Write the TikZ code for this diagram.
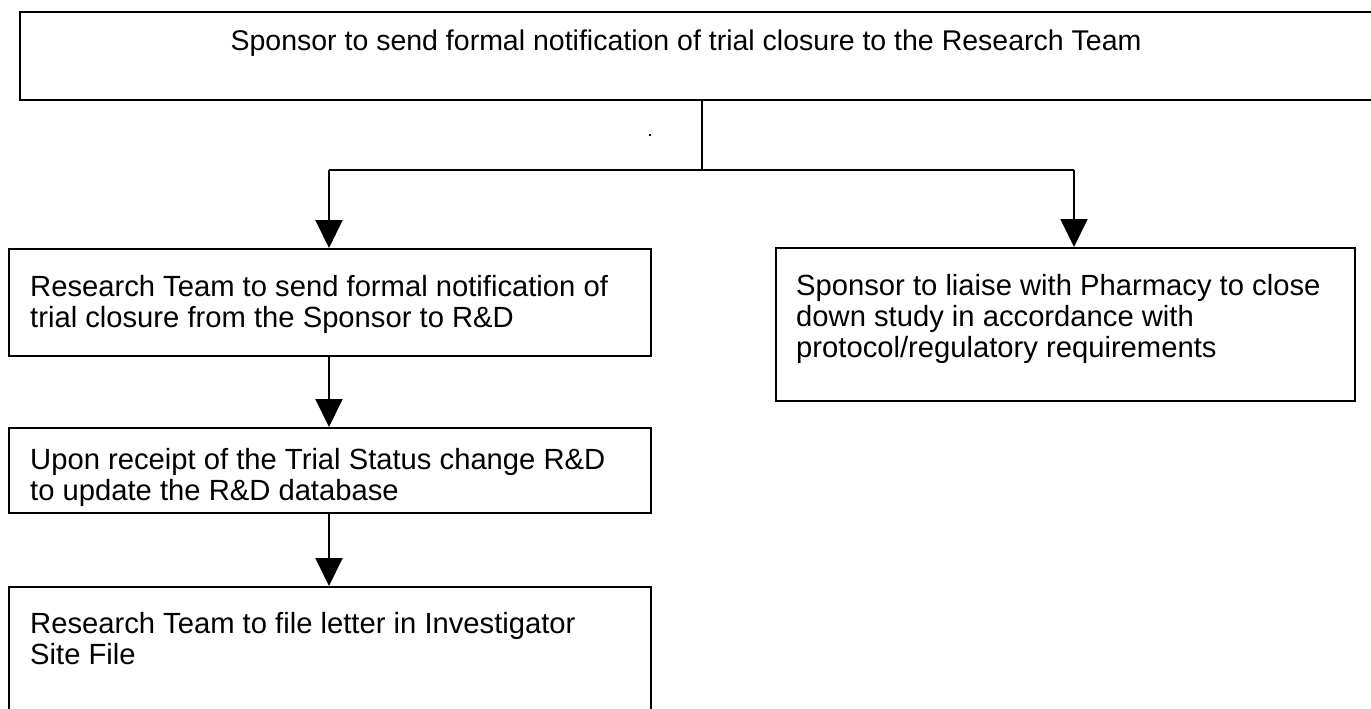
\documentclass[tikz,border=0pt]{standalone}
\usepackage{fontspec}
\setmainfont{Liberation Sans}
\usetikzlibrary{arrows.meta}
\begin{document}
\begin{tikzpicture}[x=1pt,y=-1pt,
  box/.style={draw, line width=2pt, anchor=north west, inner sep=0pt},
  txt/.style={font=\fontsize{29.2}{31}\selectfont, align=left, anchor=west, inner sep=0pt},
  conn/.style={line width=2pt},
  arr/.style={conn, -{Triangle[width=27pt,length=28pt]}}]
\useasboundingbox (0,0) rectangle (1371,709);
% boxes
\node[box, minimum width=1361pt, minimum height=88pt] (top) at (19,11) {};
\node[box, minimum width=642pt, minimum height=107pt] (b1) at (8,248) {};
\node[box, minimum width=642pt, minimum height=85pt] (b2) at (8,427) {};
\node[box, minimum width=642pt, minimum height=130pt] (b3) at (8,586) {};
\node[box, minimum width=579pt, minimum height=153pt] (bR) at (775,247) {};
% texts
\node[txt, anchor=center, font=\fontsize{28.5}{31}\selectfont] (ttop) at (686,43) {Sponsor to send formal notification of trial closure to the Research Team};
\node[txt] (t1) at (30,304) {Research Team to send formal notification of\\trial closure from the Sponsor to R\&D};
\node[txt] (t2) at (30,477) {Upon receipt of the Trial Status change R\&D\\to update the R\&D database};
\node[txt] (t3) at (30,639) {Research Team to file letter in Investigator\\Site File};
\node[txt] (tR) at (796,319) {Sponsor to liaise with Pharmacy to close\\down study in accordance with\\protocol/regulatory requirements};
% connectors
\coordinate (j) at (702,170);
\coordinate (jl) at (329,170);
\coordinate (jr) at (1074,170);
\draw[conn] (top.south -| j) -- (j);
\draw[conn] (jl) -- (jr);
\draw[arr] (jl) -- (jl |- b1.north);
\draw[arr] (jr) -- (jr |- bR.north);
\draw[arr] (b1.south -| jl) -- (b2.north -| jl);
\draw[arr] (b2.south -| jl) -- (b3.north -| jl);
% stray dot
\fill (649,134) rectangle (651,136);
\end{tikzpicture}
\end{document}
